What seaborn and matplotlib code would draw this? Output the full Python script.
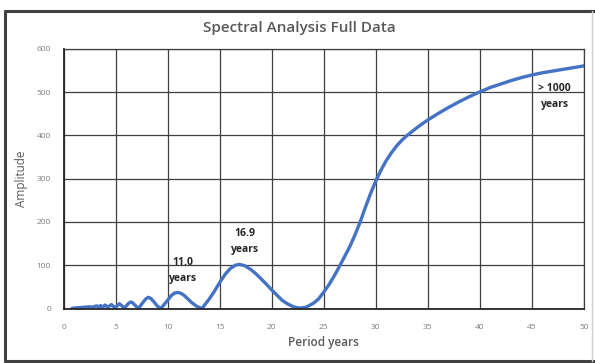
import matplotlib
matplotlib.use("Agg")
import matplotlib.pyplot as plt
import seaborn as sns
import pandas as pd
from matplotlib.lines import Line2D

period_years = [0.8, 1.0, 1.5, 2.0, 2.5, 2.8, 3.0, 3.2, 3.4, 3.56, 3.76, 4.0, 4.27, 4.59,
                4.95, 5.37, 5.87, 6.1, 6.3, 6.47, 6.65, 6.85, 7.2, 7.6, 7.9, 8.15, 8.4,
                8.7, 9.0, 9.35, 9.9, 10.4, 10.7, 11.0, 11.3, 11.6, 12.0, 12.3, 12.8, 13.3,
                14.0, 14.5, 15.0, 15.5, 16.0, 16.5, 16.9, 17.4, 18.0, 18.5, 19.0, 19.5,
                20.0, 20.5, 21.0, 21.5, 22.0, 22.4, 22.8, 23.3, 24.0, 24.5, 25.0, 25.5,
                26.0, 26.5, 27.0, 27.5, 28.0, 28.5, 29.0, 29.5, 30.0, 30.5, 31.0, 31.5,
                32.0, 32.5, 33.0, 34.0, 35.0, 36.0, 37.0, 38.0, 39.0, 40.0, 41.0, 42.0,
                43.0, 44.0, 45.0, 46.0, 47.0, 48.0, 49.0, 50.0]
amplitude = [0, 1, 2, 3, 4, 3, 5, 6, 3, 7, 3, 8, 3, 9,
             2, 11, 1, 8, 13, 15, 13, 8, 0, 13, 22, 26, 23,
             15, 6, 0, 16, 31, 36, 37, 35, 30, 21, 14, 5, 0,
             22, 40, 60, 78, 92, 100, 102, 99, 90, 80, 68, 56,
             43, 31, 19, 11, 5, 2, 1, 3, 12, 22, 38, 55,
             75, 97, 120, 143, 170, 200, 234, 266, 295, 320, 342, 360,
             376, 389, 400, 419, 436, 451, 465, 478, 490, 501, 511, 519,
             527, 534, 540, 545, 549, 553, 557, 561]

x_ticks = [0, 5, 10, 15, 20, 25, 30, 35, 40, 45, 50]
y_ticks = [0, 100, 200, 300, 400, 500, 600]

title = "Spectral Analysis Full Data"
x_label = "Period years"
y_label = "Amplitude"
annotations = [("11.0\nyears", 11.5, 88), ("16.9\nyears", 17.4, 155), ("> 1000\nyears", 47.2, 490)]

sns.set_theme(style="white")
plt.rcParams['font.family'] = ['Open Sans', 'DejaVu Sans']

df = pd.DataFrame({"Period": period_years, "Amplitude": amplitude})

fig = plt.figure(figsize=(5.95, 3.63), dpi=100)
ax = fig.add_axes([63.5 / 595, 1 - 308.5 / 363, (584 - 63.5) / 595, (308.5 - 49) / 363])

sns.lineplot(data=df, x="Period", y="Amplitude", ax=ax, color="#4472C4", linewidth=2.4,
             solid_capstyle="round", solid_joinstyle="round")

ax.set_xlim(0, 50)
ax.set_ylim(0, 600)
ax.set_xticks(x_ticks)
ax.set_yticks(y_ticks)
ax.tick_params(axis="both", labelsize=6, colors="#7f7f7f", length=0, pad=9)
ax.tick_params(axis="x", pad=11)
ax.grid(True, color="#3f3f3f", linewidth=0.9)
ax.set_axisbelow(True)
for side in ["top", "right"]:
    ax.spines[side].set_color("#3f3f3f")
    ax.spines[side].set_linewidth(0.9)
for side in ["left", "bottom"]:
    ax.spines[side].set_color("#262626")
    ax.spines[side].set_linewidth(1.3)

ax.set_xlabel(x_label, fontsize=8.5, color="#595959", fontweight="semibold", labelpad=4)
ax.set_ylabel(y_label, fontsize=8.5, color="#595959", fontweight="normal", labelpad=6)
fig.text(0.503, 1 - 28 / 363, title, ha="center", va="center", fontsize=11,
         color="#595959", fontweight="semibold")

for txt, xv, yv in annotations:
    ax.text(xv, yv, txt, ha="center", va="center", fontsize=7.5, fontweight="bold",
            color="#262626", linespacing=1.6)

# outer chart frame: dark left/top/bottom, faint right
L, R, T, B = 4.5 / 595, 592 / 595, 1 - 10.5 / 363, 1 - 360.5 / 363
fig.add_artist(Line2D([L, L], [B, T], transform=fig.transFigure, color="#404040", linewidth=2.2))
fig.add_artist(Line2D([L, 1.0], [T, T], transform=fig.transFigure, color="#404040", linewidth=2.2))
fig.add_artist(Line2D([L, 1.0], [B, B], transform=fig.transFigure, color="#404040", linewidth=2.2))
fig.add_artist(Line2D([R, R], [B, T], transform=fig.transFigure, color="#d0d0d0", linewidth=1.0))

fig.savefig("out.png", dpi=100)
